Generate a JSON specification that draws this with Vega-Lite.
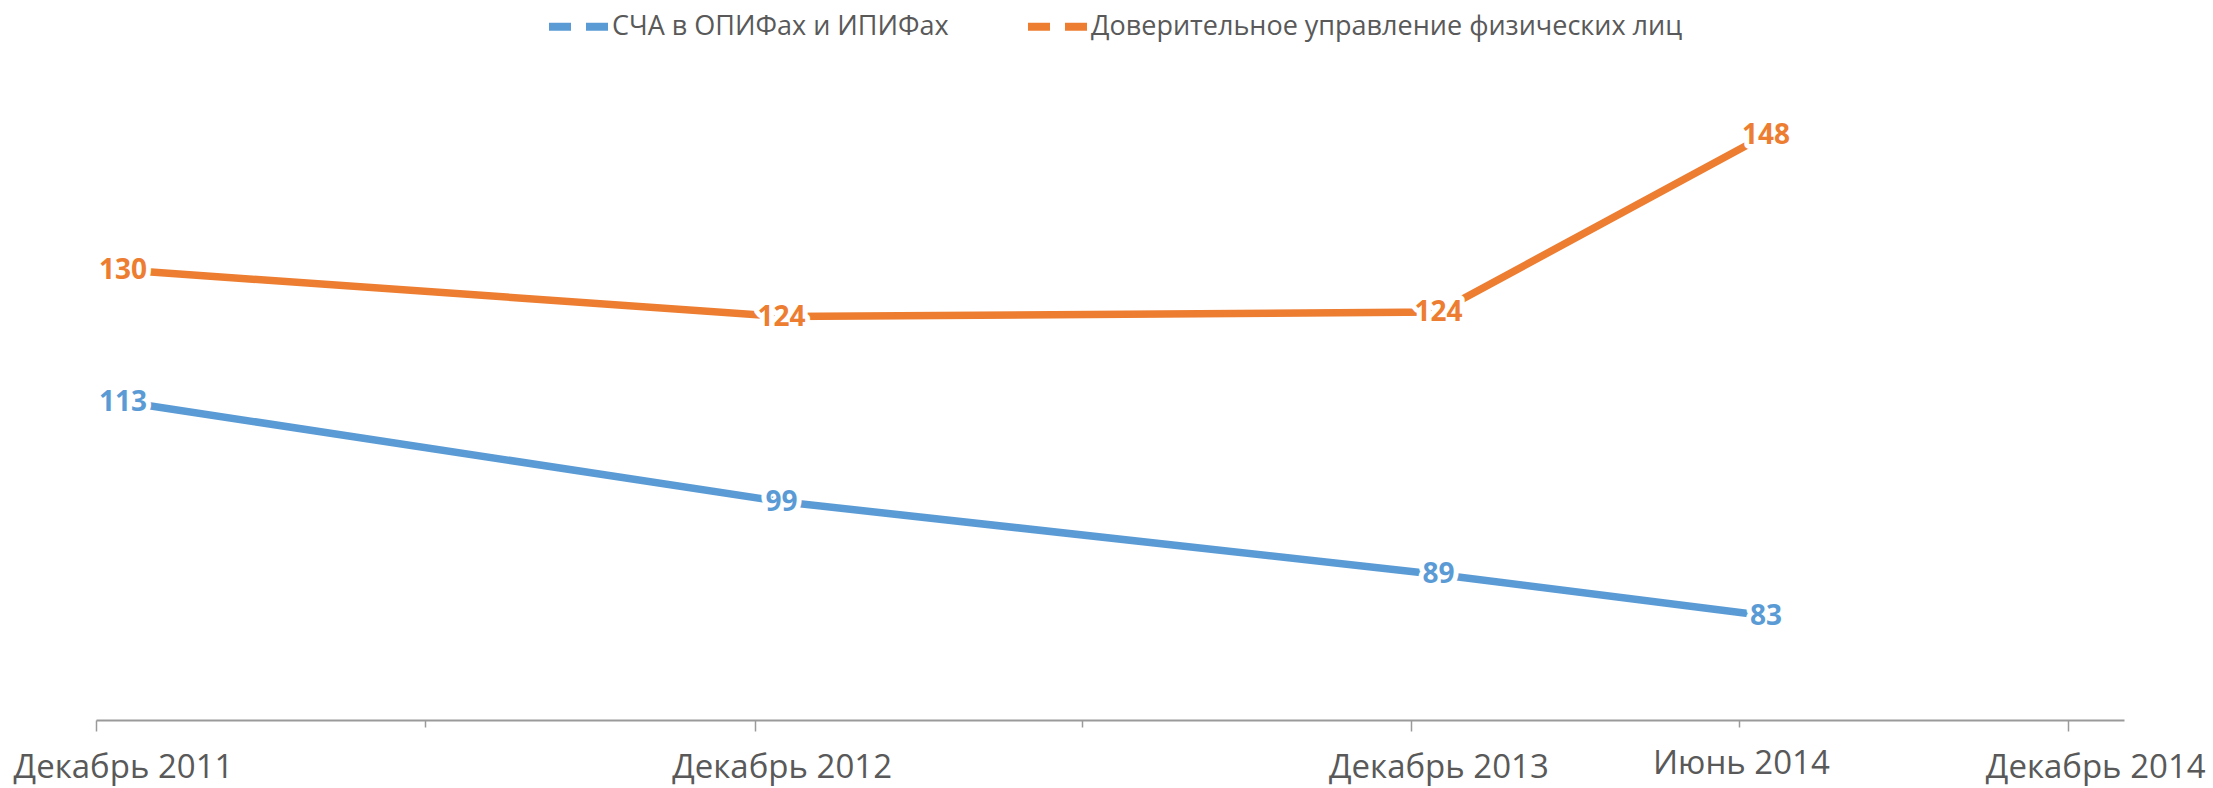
{
  "$schema": "https://vega.github.io/schema/vega-lite/v6.json",
  "width": 2028,
  "height": 675,
  "padding": {"left": 96, "top": 45, "right": 89, "bottom": 68},
  "autosize": {"type": "none"},
  "background": "white",
  "config": {
    "view": {"stroke": null},
    "font": "Open Sans"
  },
  "data": {
    "values": [
      {"date": "2011-12-16", "series": "СЧА в ОПИФах и ИПИФах", "value": 113},
      {"date": "2012-12-16", "series": "СЧА в ОПИФах и ИПИФах", "value": 99},
      {"date": "2013-12-16", "series": "СЧА в ОПИФах и ИПИФах", "value": 88.8},
      {"date": "2014-06-16", "series": "СЧА в ОПИФах и ИПИФах", "value": 83},
      {"date": "2011-12-16", "series": "Доверительное управление физических лиц", "value": 130},
      {"date": "2012-12-16", "series": "Доверительное управление физических лиц", "value": 123.8},
      {"date": "2013-12-16", "series": "Доверительное управление физических лиц", "value": 124.4},
      {"date": "2014-06-16", "series": "Доверительное управление физических лиц", "value": 148}
    ]
  },
  "encoding": {
    "x": {
      "field": "date",
      "type": "temporal",
      "scale": {
        "type": "utc",
        "domain": [
          {"year": 2011, "month": 12, "date": 1, "utc": true},
          {"year": 2015, "month": 1, "date": 1, "utc": true}
        ]
      },
      "axis": {
        "title": null,
        "values": [
          {"year": 2011, "month": 12, "date": 1, "utc": true},
          {"year": 2012, "month": 6, "date": 1, "utc": true},
          {"year": 2012, "month": 12, "date": 1, "utc": true},
          {"year": 2013, "month": 6, "date": 1, "utc": true},
          {"year": 2013, "month": 12, "date": 1, "utc": true},
          {"year": 2014, "month": 6, "date": 1, "utc": true},
          {"year": 2014, "month": 12, "date": 1, "utc": true}
        ],
        "labelExpr": "utcmonth(datum.value) == 11 ? 'Декабрь ' + utcyear(datum.value) : (utcyear(datum.value) == 2014 ? 'Июнь 2014' : '')",
        "labelOverlap": false,
        "labelFlush": false,
        "labelBound": false,
        "labelLimit": 600,
        "labelFont": "Open Sans",
        "labelFontSize": 33,
        "labelColor": "#595959",
        "labelPadding": 20,
        "labelOffset": {"condition": {"test": "utcmonth(datum.value) == 5", "value": 2}, "value": 27},
        "tickSize": {"condition": {"test": "utcmonth(datum.value) == 5", "value": 7}, "value": 11},
        "tickColor": "#9a9a9a",
        "tickWidth": 1.5,
        "domainColor": "#9a9a9a",
        "domainWidth": 2,
        "grid": false
      }
    }
  },
  "layer": [
    {
      "transform": [{"filter": "datum.series == 'СЧА в ОПИФах и ИПИФах'"}],
      "encoding": {
        "y": {"field": "value", "type": "quantitative", "scale": {"domain": [68.4, 163], "zero": false, "nice": false}, "axis": null}
      },
      "layer": [
        {
          "mark": {"type": "line", "strokeWidth": 7.5, "strokeCap": "butt"},
          "encoding": {
            "color": {
              "field": "series",
              "type": "nominal",
              "sort": ["СЧА в ОПИФах и ИПИФах", "Доверительное управление физических лиц"],
              "scale": {"domain": ["СЧА в ОПИФах и ИПИФах", "Доверительное управление физических лиц"], "range": ["#5B9BD5", "#ED7D31"]},
              "legend": {
                "title": null,
                "orient": "none",
                "direction": "horizontal",
                "legendX": 449,
                "legendY": -52,
                "symbolType": "stroke",
                "symbolSize": 3481,
                "symbolStrokeWidth": 8,
                "symbolDash": [22, 15],
                "labelFont": "Open Sans",
                "labelFontSize": 27,
                "labelLimit": 1000,
                "labelColor": "#595959",
                "labelOffset": 0,
                "columnPadding": 63
              }
            }
          }
        },
        {
          "mark": {"type": "text", "font": "Open Sans", "fontSize": 28, "fontWeight": "bold", "align": "center", "baseline": "middle", "dy": 1, "fill": "white", "stroke": "white", "strokeWidth": 10, "strokeJoin": "round"},
          "encoding": {"text": {"field": "value", "type": "quantitative", "format": ".0f"}}
        },
        {
          "mark": {"type": "text", "font": "Open Sans", "fontSize": 28, "fontWeight": "bold", "align": "center", "baseline": "middle", "dy": 1, "color": "#5B9BD5"},
          "encoding": {"text": {"field": "value", "type": "quantitative", "format": ".0f"}}
        }
      ]
    },
    {
      "transform": [{"filter": "datum.series == 'Доверительное управление физических лиц'"}],
      "encoding": {
        "y": {"field": "value", "type": "quantitative", "scale": {"domain": [70, 160], "zero": false, "nice": false}, "axis": null}
      },
      "layer": [
        {
          "mark": {"type": "line", "strokeWidth": 7.5, "strokeCap": "butt"},
          "encoding": {
            "color": {
              "field": "series",
              "type": "nominal",
              "sort": ["СЧА в ОПИФах и ИПИФах", "Доверительное управление физических лиц"],
              "scale": {"domain": ["СЧА в ОПИФах и ИПИФах", "Доверительное управление физических лиц"], "range": ["#5B9BD5", "#ED7D31"]}
            }
          }
        },
        {
          "mark": {"type": "text", "font": "Open Sans", "fontSize": 28, "fontWeight": "bold", "align": "center", "baseline": "middle", "dy": 1, "fill": "white", "stroke": "white", "strokeWidth": 10, "strokeJoin": "round"},
          "encoding": {"text": {"field": "value", "type": "quantitative", "format": ".0f"}}
        },
        {
          "mark": {"type": "text", "font": "Open Sans", "fontSize": 28, "fontWeight": "bold", "align": "center", "baseline": "middle", "dy": 1, "color": "#ED7D31"},
          "encoding": {"text": {"field": "value", "type": "quantitative", "format": ".0f"}}
        }
      ]
    }
  ],
  "resolve": {"scale": {"y": "independent"}}
}
